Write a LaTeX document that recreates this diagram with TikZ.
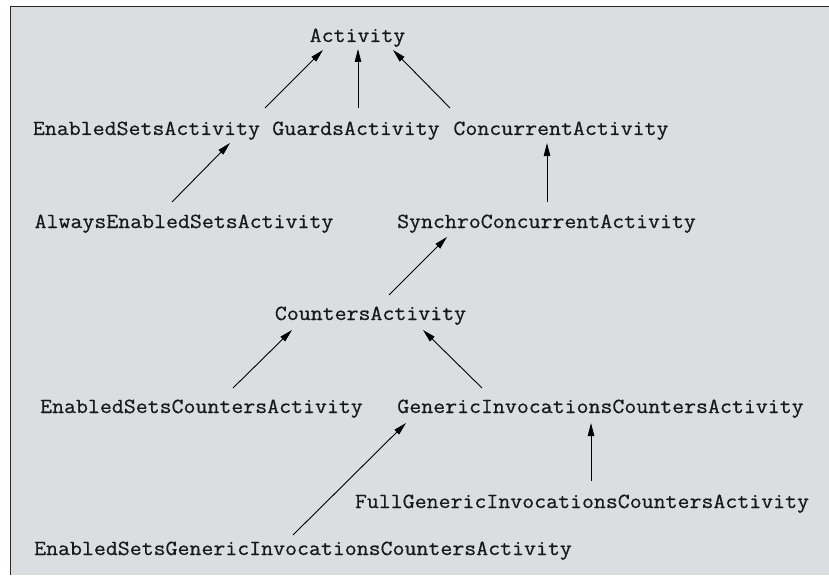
\documentclass[tikz,border=0pt]{standalone}
\usepackage{fontspec}
\newfontfamily\clsfont{Latin Modern Mono}[FakeBold=0.6]
\usetikzlibrary{arrows.meta,calc}
\definecolor{panel}{RGB}{220,221,224}
\definecolor{frame}{RGB}{40,40,40}
\newcommand{\clsname}[1]{\scalebox{1}[0.93]{#1}}
\begin{document}
\begin{tikzpicture}[x=1pt,y=-1pt,
  cls/.style={inner sep=0pt,anchor=base,text=black!90,font=\clsfont\fontsize{23.2}{26}\selectfont},
  arr/.style={line width=0.9pt,-{Triangle[length=13pt,width=6.5pt]}}]
\useasboundingbox (0,0) rectangle (829,575);
% panel with its top and left edges
\fill[panel] (10.5,6.5) rectangle (829,575);
\draw[frame,line width=1.4pt] (10.5,575) -- (10.5,6.5) -- (829,6.5);

% classes
\node[cls] (act)     at (357.5,42)  {\clsname{Activity}};
\node[cls] (esa)     at (146.5,135) {\clsname{EnabledSetsActivity}};
\node[cls] (ga)      at (356,135)   {\clsname{GuardsActivity}};
\node[cls] (ca)      at (561,135)   {\clsname{ConcurrentActivity}};
\node[cls] (aesa)    at (184,228)   {\clsname{AlwaysEnabledSetsActivity}};
\node[cls] (sca)     at (546.5,228) {\clsname{SynchroConcurrentActivity}};
\node[cls] (cnt)     at (370.5,320) {\clsname{CountersActivity}};
\node[cls] (escnt)   at (201.5,413) {\clsname{EnabledSetsCountersActivity}};
\node[cls] (gicnt)   at (600.5,413) {\clsname{GenericInvocationsCountersActivity}};
\node[cls] (fgicnt)  at (582,508)   {\clsname{FullGenericInvocationsCountersActivity}};
\node[cls] (esgicnt) at (303,555)   {\clsname{EnabledSetsGenericInvocationsCountersActivity}};

% inheritance arrows, child -> parent
\draw[arr] ($(esa.base)+(118.5,-27)$)     -- ($(act.base)+(-34.5,8)$);
\draw[arr] ($(ga.base)+(2,-27)$)          -- ($(act.base)+(0.5,7)$);
\draw[arr] ($(ca.base)+(-111,-27)$)       -- ($(act.base)+(35.5,8)$);
\draw[arr] ($(aesa.base)+(-12,-26)$)      -- ($(esa.base)+(83.5,8)$);
\draw[arr] ($(sca.base)+(0.5,-26)$)       -- ($(ca.base)+(-14,8)$);
\draw[arr] ($(cnt.base)+(18.5,-25)$)      -- ($(sca.base)+(-99.5,9)$);
\draw[arr] ($(escnt.base)+(31.5,-25)$)    -- ($(cnt.base)+(-78.5,10)$);
\draw[arr] ($(gicnt.base)+(-118.5,-25)$)  -- ($(cnt.base)+(52.5,10)$);
\draw[arr] ($(fgicnt.base)+(9,-27)$)      -- ($(gicnt.base)+(-9.5,10)$);
\draw[arr] ($(esgicnt.base)+(-10,-20)$)   -- ($(gicnt.base)+(-194.5,10)$);
\end{tikzpicture}
\end{document}
